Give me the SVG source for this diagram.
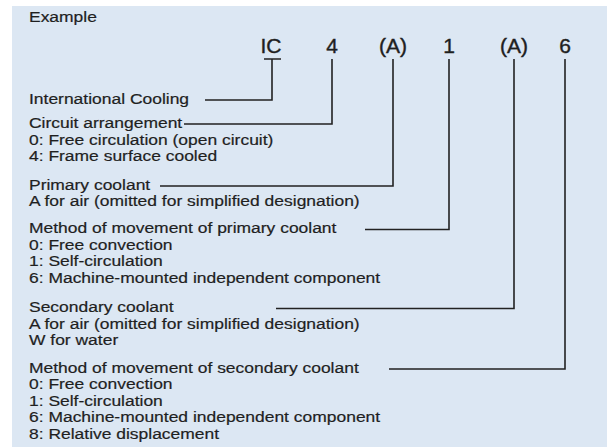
<svg xmlns="http://www.w3.org/2000/svg" width="607" height="447" viewBox="0 0 607 447">
<style>
.t{font-family:"Liberation Sans",Arial,sans-serif;font-size:14.8px;fill:#1f1f1f;stroke:#1f1f1f;stroke-width:0.2}
.c{font-family:"Liberation Sans",Arial,sans-serif;font-size:21px;fill:#1f1f1f;stroke:#1f1f1f;stroke-width:0.4;text-anchor:middle}
.ln{fill:none;stroke:#222;stroke-width:1.6}
</style>
<rect x="12" y="6" width="595" height="441" fill="#dce7f3"/>
<g id="title" transform="matrix(1.18,0,0,1,29,0)"><text class="t" x="0" y="22">Example</text></g>
<g id="code">
<text class="c" x="271" y="53">IC</text>
<text class="c" x="332" y="53">4</text>
<text class="c" x="393" y="53">(A)</text>
<text class="c" x="449" y="53">1</text>
<text class="c" x="514" y="53">(A)</text>
<text class="c" x="565" y="53">6</text>
</g>
<g id="n-ic" transform="matrix(1.18,0,0,1,29,0)"><text class="t" x="0" y="104">International Cooling</text></g>
<g id="n-circuit" transform="matrix(1.18,0,0,1,29,0)">
<text class="t" x="0" y="128">Circuit arrangement</text>
<text class="t" x="0" y="145">0: Free circulation (open circuit)</text>
<text class="t" x="0" y="161.5">4: Frame surface cooled</text>
</g>
<g id="n-primary" transform="matrix(1.18,0,0,1,29,0)">
<text class="t" x="0" y="190">Primary coolant</text>
<text class="t" x="0" y="206.5">A for air (omitted for simplified designation)</text>
</g>
<g id="n-method-primary" transform="matrix(1.18,0,0,1,29,0)">
<text class="t" x="0" y="233.5">Method of movement of primary coolant</text>
<text class="t" x="0" y="250">0: Free convection</text>
<text class="t" x="0" y="266.5">1: Self-circulation</text>
<text class="t" x="0" y="283">6: Machine-mounted independent component</text>
</g>
<g id="n-secondary" transform="matrix(1.18,0,0,1,29,0)">
<text class="t" x="0" y="312.5">Secondary coolant</text>
<text class="t" x="0" y="329">A for air (omitted for simplified designation)</text>
<text class="t" x="0" y="345.5">W for water</text>
</g>
<g id="n-method-secondary" transform="matrix(1.18,0,0,1,29,0)">
<text class="t" x="0" y="373">Method of movement of secondary coolant</text>
<text class="t" x="0" y="389.5">0: Free convection</text>
<text class="t" x="0" y="406">1: Self-circulation</text>
<text class="t" x="0" y="422.5">6: Machine-mounted independent component</text>
<text class="t" x="0" y="439">8: Relative displacement</text>
</g>
<g id="connectors" class="ln">
<path d="M264 59H281M272 59V100H205"/>
<path d="M332 59V124H184"/>
<path d="M393 59V186H160"/>
<path d="M449 59V229.5H365"/>
<path d="M514 59V308.5H276"/>
<path d="M565 59V369H389"/>
</g>
</svg>
